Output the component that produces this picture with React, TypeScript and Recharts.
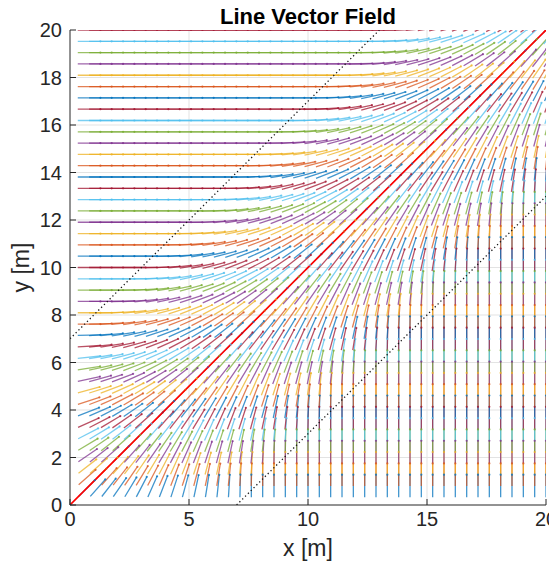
import React from 'react';
import { LineChart, Line, XAxis, YAxis, CartesianGrid } from 'recharts';

// Sample positions of the field (same for columns x and rows y), metres
const SAMPLES = [
  0.476, 0.952, 1.429, 1.905, 2.381, 2.857, 3.333, 3.81, 4.286, 4.762,
  5.238, 5.714, 6.19, 6.667, 7.143, 7.619, 8.095, 8.571, 9.048, 9.524,
  10.0, 10.476, 10.952, 11.429, 11.905, 12.381, 12.857, 13.333, 13.81, 14.286,
  14.762, 15.238, 15.714, 16.19, 16.667, 17.143, 17.619, 18.095, 18.571, 19.048,
  19.524, 20.0,
];

// Field heading in degrees, indexed by (row index - column index) from -15 .. +15
const HEADING_BY_OFFSET = [
  90, 88.7, 86.5, 84, 81, 78, 75, 72, 69, 66, 62.5, 59, 55.5, 52, 48.5,
  45,
  41.5, 38, 34.5, 31, 27.5, 24, 21, 18, 15, 12, 9, 6, 3.5, 1.3, 0,
];

const ROW_COLORS = ['#0072BD', '#D95319', '#EDB120', '#7E2F8E', '#77AC30', '#4DBEEE', '#A2142F'];

const X_TICKS = [0, 5, 10, 15, 20];
const Y_TICKS = [0, 2, 4, 6, 8, 10, 12, 14, 16, 18, 20];
const GRID_X = [5, 10, 15];
const GRID_Y = [2, 4, 6, 8, 10, 12, 14, 16, 18];

const DIAGONAL = [{ x: 0, y: 0 }, { x: 20, y: 20 }];
const UPPER_EDGE = [{ x: 0, y: 7 }, { x: 13, y: 20 }];
const LOWER_EDGE = [{ x: 7, y: 0 }, { x: 20, y: 13 }];

const SEG_BACK = 0.15;
const SEG_FWD = 0.8;
const MAX_OFF = 15;

function heading(row: number, col: number) {
  let k = row - col;
  if (k > MAX_OFF) k = MAX_OFF;
  if (k < -MAX_OFF) k = -MAX_OFF;
  return HEADING_BY_OFFSET[k + MAX_OFF];
}

type Pt = { x: number; y: number | null; end?: boolean };

const SERIES: { key: string; color: string; data: Pt[] }[] = [];
SAMPLES.forEach((yv, j) => {
  [0, 1].forEach((par) => {
    const data: Pt[] = [];
    SAMPLES.forEach((xv, i) => {
      if (i % 2 !== par) return;
      const a = (heading(j, i) * Math.PI) / 180;
      const c = Math.cos(a);
      const s = Math.sin(a);
      const ex = xv + SEG_FWD * c;
      const ey = yv + SEG_FWD * s;
      data.push({ x: xv - SEG_BACK * c, y: yv - SEG_BACK * s });
      data.push({ x: ex, y: ey, end: true });
      data.push({ x: ex, y: null });
    });
    SERIES.push({ key: `r${j}p${par}`, color: ROW_COLORS[j % 7], data });
  });
});

const AXIS_COLOR = '#262626';
const FONT = '"Liberation Sans", Arial, Helvetica, sans-serif';

function makeDot(color: string, key: string) {
  return (props: any) => {
    const { cx, cy, payload, index } = props;
    if (!payload || !payload.end || cx == null || cy == null) {
      return <g key={`${key}-${index}`} />;
    }
    return <circle key={`${key}-${index}`} cx={cx} cy={cy} r={1.1} fill={color} fillOpacity={0.8} stroke="none" />;
  };
}

export default function App() {
  return (
    <div style={{ position: 'relative', width: 549, height: 557, fontFamily: FONT }}>
      <LineChart width={549} height={557} margin={{ top: 22, right: 11, bottom: 0, left: 0 }}>
        <CartesianGrid
          stroke="#e3e3e3"
          strokeWidth={1}
          verticalValues={GRID_X}
          horizontalValues={GRID_Y}
        />
        <XAxis
          type="number"
          dataKey="x"
          domain={[0, 20]}
          ticks={X_TICKS}
          allowDataOverflow
          height={60}
          tickSize={-6}
          tickMargin={13}
          stroke={AXIS_COLOR}
          tick={{ fill: AXIS_COLOR, fontSize: 20, fontFamily: FONT }}
        />
        <YAxis
          type="number"
          dataKey="y"
          domain={[0, 20]}
          ticks={Y_TICKS}
          allowDataOverflow
          width={62}
          tickSize={-6}
          tickMargin={14}
          stroke={AXIS_COLOR}
          tick={{ fill: AXIS_COLOR, fontSize: 20, fontFamily: FONT }}
        />
        {SERIES.map((s) => (
          <Line
            key={s.key}
            data={s.data}
            dataKey="y"
            type="linear"
            stroke={s.color}
            strokeOpacity={0.74}
            strokeWidth={1.3}
            dot={makeDot(s.color, s.key)}
            activeDot={false}
            connectNulls={false}
            isAnimationActive={false}
            legendType="none"
          />
        ))}
        <Line data={DIAGONAL} dataKey="y" type="linear" stroke="#FF0000" strokeWidth={1.6} dot={false} activeDot={false} isAnimationActive={false} />
        <Line data={UPPER_EDGE} dataKey="y" type="linear" stroke="#1a1a1a" strokeWidth={1.3} strokeDasharray="1.3 2.7" dot={false} activeDot={false} isAnimationActive={false} />
        <Line data={LOWER_EDGE} dataKey="y" type="linear" stroke="#1a1a1a" strokeWidth={1.3} strokeDasharray="1.3 2.7" dot={false} activeDot={false} isAnimationActive={false} />
      </LineChart>
      <svg
        width={549}
        height={557}
        style={{ position: 'absolute', left: 0, top: 0, pointerEvents: 'none', zIndex: 9 }}
      >
        <text x={300} y={16} textAnchor="middle" fontSize={22} fontWeight="bold" fill="#000" fontFamily={FONT}>
          Line Vector Field
        </text>
        <text x={300} y={548} textAnchor="middle" fontSize={23} fill={AXIS_COLOR} fontFamily={FONT}>
          x [m]
        </text>
        <text
          x={0}
          y={0}
          transform="translate(21,259.5) rotate(-90)"
          textAnchor="middle"
          fontSize={23}
          fill={AXIS_COLOR}
          fontFamily={FONT}
        >
          y [m]
        </text>
      </svg>
    </div>
  );
}
